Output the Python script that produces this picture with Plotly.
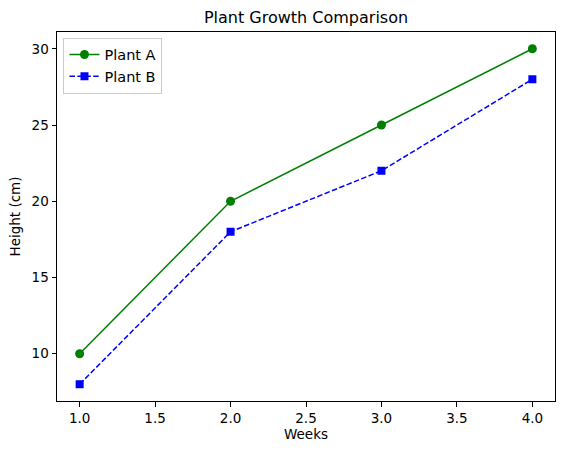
import plotly.graph_objects as go

weeks = [1, 2, 3, 4]
plant_a = [10, 20, 25, 30]
plant_b = [8, 18, 22, 28]
x_ticks = [1.0, 1.5, 2.0, 2.5, 3.0, 3.5, 4.0]
y_ticks = [10, 15, 20, 25, 30]

fig = go.Figure()
fig.add_trace(go.Scatter(x=weeks, y=plant_a, mode="lines+markers", name="Plant A",
                         line=dict(color="green", width=1.5),
                         marker=dict(symbol="circle", size=9, color="green")))
fig.add_trace(go.Scatter(x=weeks, y=plant_b, mode="lines+markers", name="Plant B",
                         line=dict(color="blue", width=1.5, dash="5.5px,2.4px"),
                         marker=dict(symbol="square", size=8, color="blue")))

axis_common = dict(showgrid=False, zeroline=False, showline=True, linecolor="black",
                   linewidth=1, mirror=True, ticks="outside", ticklen=4.5,
                   tickcolor="black", tickfont=dict(size=13.5, color="black"),
                   automargin=False)

fig.update_layout(
    width=562, height=455,
    margin=dict(l=57, r=7, t=32, b=54, autoexpand=False),
    paper_bgcolor="white", plot_bgcolor="white",
    font=dict(family="DejaVu Sans", color="black"),
    title=dict(text="Plant Growth Comparison", x=0.5, xanchor="center",
               xref="paper", yref="container", y=1 - 17/455, yanchor="middle",
               font=dict(size=16), automargin=False),
    xaxis=dict(range=[0.85, 4.15], tickvals=x_ticks,
               ticktext=[f"{v:.1f}" for v in x_ticks],
               title=dict(text="Weeks", font=dict(size=13.5), standoff=4), **axis_common),
    yaxis=dict(range=[6.9, 31.1], tickvals=y_ticks,
               ticktext=[str(v) for v in y_ticks],
               title=dict(text="Height (cm)", font=dict(size=13.5), standoff=7), **axis_common),
    legend=dict(x=0.013, y=0.985, xanchor="left", yanchor="top",
                bgcolor="rgba(255,255,255,0.8)", bordercolor="#cccccc", borderwidth=1,
                font=dict(size=14.5), tracegroupgap=0),
    showlegend=True,
)

fig.write_html("out.html", config={"displayModeBar": False},
               post_script="document.body.style.margin='0';document.body.style.padding='0';")
